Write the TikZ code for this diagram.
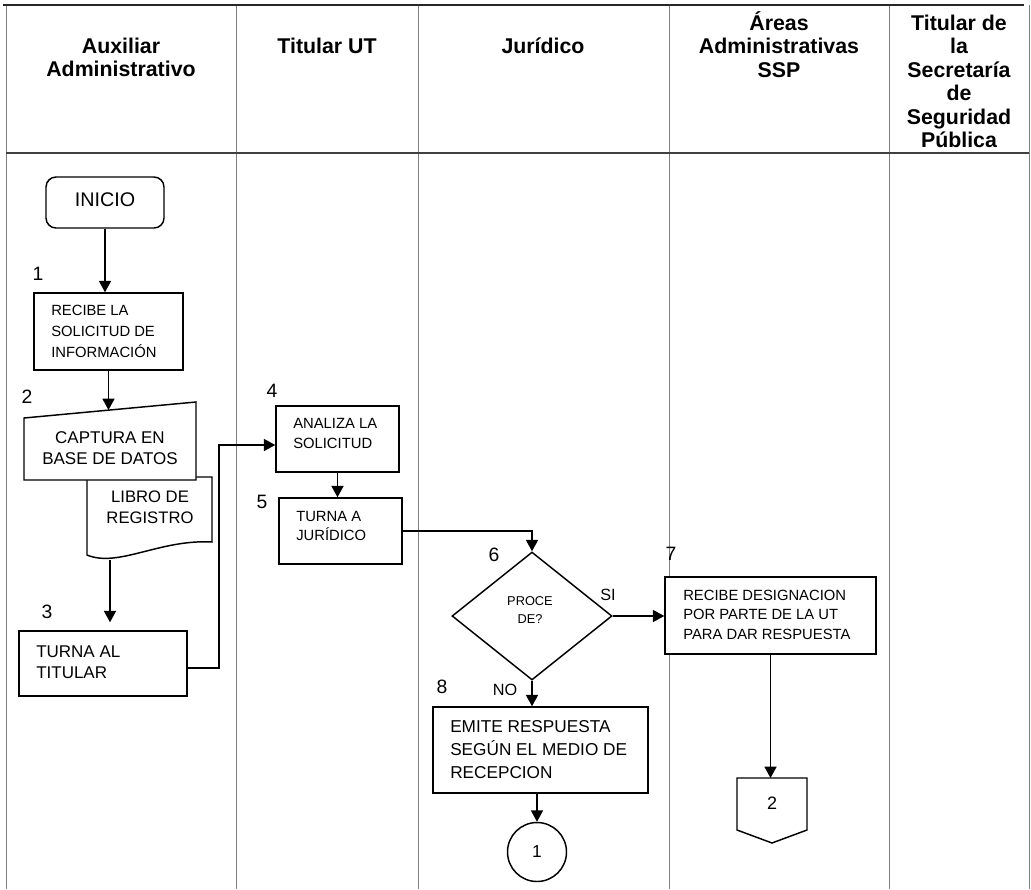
\documentclass[tikz,border=0pt]{standalone}
\usepackage{fontspec}
\setmainfont{Liberation Sans}
\usetikzlibrary{arrows.meta,fit,shapes.geometric}

\begin{document}
\begin{tikzpicture}[x=0.75pt,y=-0.75pt,
  lane/.style={draw=black!50, line width=0.6pt},
  frame/.style={draw=black!85, line width=1.6pt},
  box/.style={draw, line width=1.1pt, inner sep=0pt, fill=white},
  flow/.style={-{Triangle[length=8.5pt,width=9pt]}, line width=1.1pt},
  head/.style={font=\fontsize{16}{17.6}\selectfont\bfseries, align=center, inner sep=0pt, anchor=base},
  txt/.style={inner sep=0pt, anchor=base west, align=left},
  ctxt/.style={inner sep=0pt, anchor=base, align=center},
  num/.style={font=\fontsize{14.5}{16}\selectfont, inner sep=0pt, anchor=base},
  tag/.style={font=\fontsize{12.2}{14}\selectfont, inner sep=0pt, anchor=base},
]
\useasboundingbox (0,0) rectangle (1031,889);
\fill[white] (0,0) rectangle (1031,889);

% swimlanes and header band
\foreach \x in {6,236,418,669,889,1029} \draw[lane] (\x,5) -- (\x,889);
\draw[draw=black!75, line width=0.9pt] (6,153) -- (1029,153);
\draw[frame] (3,5) -- (1024,5);

% lane titles (anchored on the baseline of their last line)
\node[head] (h1) at (121,76.5) {Auxiliar\\Administrativo};
\node[head] (h2) at (327,53) {Titular UT};
\node[head] (h3) at (543,53) {Jurídico};
\node[head] (h4) at (779,77) {Áreas\\Administrativas\\SSP};
\node[head] (h5) at (959,147.5) {Titular de\\la\\Secretaría\\de\\Seguridad\\Pública};

% ---- Auxiliar Administrativo
\node[box, rounded corners=7.5pt, fit={(46,177) (164,228)}] (start) {};
\node[ctxt, font=\fontsize{14.8}{16}\selectfont] (startT) at (105,206) {INICIO};

\node[num] (n1) at (38,280) {1};
\node[box, fit={(34,293) (183,370)}] (recibe) {};
\node[txt, font=\fontsize{11.1}{15.75}\selectfont] (recibeT) at (51,357) {RECIBE LA\\SOLICITUD DE\\INFORMACIÓN};

\node[num] (n2) at (27,403) {2};
% registry document behind the data capture shape
\draw[box] (87,477) coordinate (libroTL) -- (212,477) -- (212,542)
  .. controls (160,539) and (118,568) .. (87,555) -- cycle;
\coordinate (libroB) at (110,560);
\node[ctxt, font=\fontsize{12.5}{15.4}\selectfont] (libroT) at (150,523.5) {LIBRO DE\\REGISTRO};
% manual input (data capture)
\draw[box] (24,418) coordinate (capTL) -- (196,402) coordinate (capTR)
  -- (196,480) coordinate (capBR) -- (24,480) coordinate (capBL) -- cycle;
\coordinate (capTop) at (108.5,410);
\node[ctxt, font=\fontsize{12.75}{15.75}\selectfont] (capT) at (110,464) {CAPTURA EN\\BASE DE DATOS};

\node[num] (n3) at (47,618) {3};
\node[box, fit={(19,631) (187,696)}] (turna) {};
\node[txt, font=\fontsize{12.75}{15.75}\selectfont] (turnaT) at (36,678) {TURNA AL\\TITULAR};

% ---- Titular UT
\node[num] (n4) at (272,397) {4};
\node[box, fit={(276,406) (399,472)}] (analiza) {};
\node[txt, font=\fontsize{11.1}{15}\selectfont] (analizaT) at (293,448) {ANALIZA LA\\SOLICITUD};

\node[num] (n5) at (262,508) {5};
\node[box, fit={(279,498) (402,564)}] (turnaj) {};
\node[txt, font=\fontsize{11.1}{14.25}\selectfont] (turnajT) at (296,540) {TURNA A\\JURÍDICO};

% ---- Jurídico
\node[num] (n6) at (494,561) {6};
\node[draw, diamond, line width=1.1pt, minimum width=120pt, minimum height=96pt,
      inner sep=0pt, fill=white] (dec) at (532,616) {};
\node[ctxt, font=\fontsize{9.6}{13.5}\selectfont] (decT) at (530,623) {PROCE\\DE?};
\node[tag] (si) at (608,600) {SI};
\node[tag] (no) at (505,695) {NO};

\node[num] (n8) at (442,693) {8};
\node[box, fit={(433,707) (648,793)}] (emite) {};
\node[txt, font=\fontsize{12.9}{16.9}\selectfont] (emiteT) at (450,778) {EMITE RESPUESTA\\SEGÚN EL MEDIO DE\\RECEPCION};

\node[draw, circle, line width=1.1pt, minimum size=44.25pt, inner sep=0pt,
      font=\fontsize{13}{14}\selectfont] (con1) at (537,852) {1};

% ---- Áreas Administrativas SSP
\node[num] (n7) at (671,560) {7};
\node[box, fit={(665,577) (876,654)}] (desig) {};
\node[txt, font=\fontsize{11.1}{14.6}\selectfont] (desigT) at (683,639) {RECIBE DESIGNACION\\POR PARTE DE LA UT\\PARA DAR RESPUESTA};

\draw[box] (737,778) coordinate (offTL) -- (807,778) coordinate (offTR)
  -- (807,830) -- (772,843) coordinate (offTip) -- (737,830) -- cycle;
\coordinate (offTop) at (772,778);
\node[font=\fontsize{13.5}{14}\selectfont, inner sep=0pt] (con2) at (772,803) {2};

% ---- connectors
\draw[flow] (start.south) -- (start.south |- recibe.north);
\draw[flow] (recibe.south) -- (capTop);
\draw[flow, shorten >=6pt] (libroB) -- (libroB |- turna.north);
\coordinate (j1) at (219,668);
\coordinate (j2) at (219,445);
\draw[flow] (turna.east |- j1) -- (j1) -- (j2) -- (analiza.west |- j2);
\draw[flow] (analiza.south) -- (analiza.south |- turnaj.north);
\draw[flow] (turnaj.east) -| (dec.north);
\draw[flow] (dec.east) -- (dec.east -| desig.west);
\draw[flow] (dec.south) -- (dec.south |- emite.north);
\draw[flow] (con1.north |- emite.south) -- (con1.north);
\draw[flow] (desig.south) -- (desig.south |- offTop);
\end{tikzpicture}
\end{document}
